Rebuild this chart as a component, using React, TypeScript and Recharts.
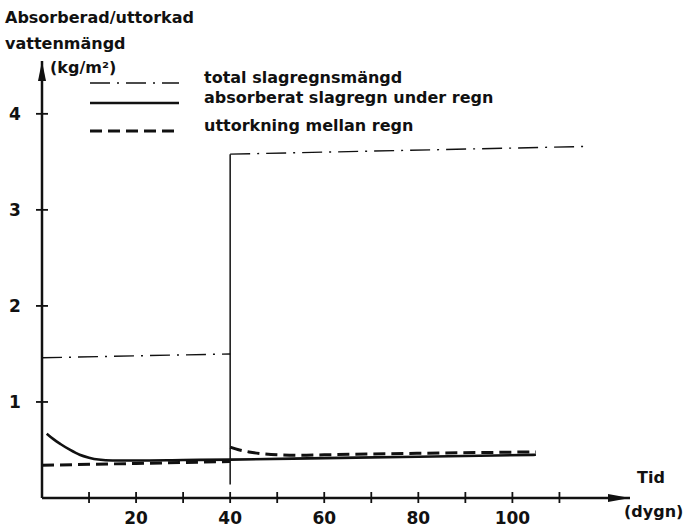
import React from 'react'
import { LineChart, Line, XAxis, YAxis, ReferenceLine, ReferenceDot } from 'recharts'

// dygn (x) and kg/m² (y)
const totalX1 = [0, 40]
const totalY1 = [1.46, 1.5]
const totalX2 = [40, 115.5]
const totalY2 = [3.58, 3.66]

const absorbX = [1, 2.5, 4, 6, 8, 10, 12, 15, 20, 30, 40, 60, 80, 105]
const absorbY = [0.67, 0.61, 0.56, 0.5, 0.45, 0.42, 0.4, 0.39, 0.39, 0.395, 0.4, 0.415, 0.43, 0.45]

const dryX1 = [0, 20, 40]
const dryY1 = [0.34, 0.36, 0.38]
const dryX2 = [40, 42, 44, 47, 50, 55, 60, 80, 105]
const dryY2 = [0.53, 0.5, 0.48, 0.46, 0.45, 0.445, 0.45, 0.465, 0.48]

const stepX = 40
const stepFrom = 0.14
const stepTo = 3.58

const xTicks = [10, 20, 30, 40, 50, 60, 70, 80, 90, 100, 110]
const xLabels = [20, 40, 60, 80, 100]
const yTicks = [1, 2, 3, 4]
const xMax = 125
const yMax = 4.55

const seriesNames = ['total slagregnsmängd', 'absorberat slagregn under regn', 'uttorkning mellan regn']
const titleLines = ['Absorberad/uttorkad', 'vattenmängd']

const pts = (xs: number[], ys: number[]) => xs.map((x, i) => ({ x, y: ys[i] }))

const INK = '#111'
const FONT = '"DejaVu Sans", sans-serif'
const DASH_DOT = '20 7 2 7'
const DASH = '12 6'

const YTick = (props: any) => {
  const { x, y, payload } = props
  return (
    <g>
      <line x1={x - 6} x2={x + 6} y1={y} y2={y} stroke={INK} strokeWidth={1.8} />
      <text x={x - 27} y={y} textAnchor="middle" dominantBaseline="central" fontSize={17} fontWeight="bold" fill={INK} fontFamily={FONT}>
        {payload.value}
      </text>
    </g>
  )
}

const XTick = (props: any) => {
  const { x, y, payload } = props
  return (
    <g>
      <line x1={x} x2={x} y1={y - 6} y2={y + 5} stroke={INK} strokeWidth={1.8} />
      {xLabels.includes(payload.value) && (
        <text x={x} y={y + 20} textAnchor="middle" dominantBaseline="central" fontSize={17} fontWeight="bold" fill={INK} fontFamily={FONT}>
          {payload.value}
        </text>
      )}
    </g>
  )
}

const ArrowUp = (props: any) => {
  const { cx, cy } = props
  return <polygon points={`${cx},${cy} ${cx - 4},${cy + 20} ${cx + 4},${cy + 20}`} fill={INK} />
}

const ArrowRight = (props: any) => {
  const { cx, cy } = props
  return <polygon points={`${cx},${cy} ${cx - 22},${cy - 4} ${cx - 22},${cy + 4}`} fill={INK} />
}

const legendStyles = [
  { top: 0, dash: DASH_DOT, width: 1.4 },
  { top: 20, dash: undefined, width: 2.6 },
  { top: 48, dash: DASH, width: 3 },
]

const LegendBox = () => (
  <div style={{ position: 'absolute', left: 89, top: 68, width: 440, height: 70, fontFamily: FONT }}>
    {seriesNames.map((name, i) => (
      <div key={name} style={{ position: 'absolute', left: 0, top: legendStyles[i].top, height: 20, width: 440 }}>
        <svg width={92} height={10} style={{ position: 'absolute', left: 0, top: 10 }}>
          <line x1={1} x2={90} y1={5} y2={5} stroke={INK} strokeWidth={legendStyles[i].width} strokeDasharray={legendStyles[i].dash} />
        </svg>
        <span style={{ position: 'absolute', left: 115, top: 0, fontSize: 16, fontWeight: 'bold', color: INK, whiteSpace: 'nowrap', lineHeight: '20px' }}>
          {name}
        </span>
      </div>
    ))}
  </div>
)

export default function App() {
  const textStyle: React.CSSProperties = {
    position: 'absolute',
    fontFamily: FONT,
    fontWeight: 'bold',
    fontSize: 16,
    color: INK,
    whiteSpace: 'nowrap',
    lineHeight: '20px',
  }

  return (
    <div style={{ position: 'relative', width: 685, height: 530, background: '#fff' }}>
      <style>{'body{margin:0}'}</style>
      <LineChart width={685} height={530} margin={{ top: 61, right: 55, bottom: 0, left: 0 }}>
        <XAxis
          type="number"
          dataKey="x"
          domain={[0, xMax]}
          ticks={xTicks}
          allowDataOverflow
          height={32}
          tickSize={0}
          tickMargin={0}
          tickLine={false}
          axisLine={{ stroke: INK, strokeWidth: 2.5 }}
          tick={<XTick />}
        />
        <YAxis
          type="number"
          domain={[0, yMax]}
          ticks={yTicks}
          allowDataOverflow
          width={42}
          tickSize={0}
          tickMargin={0}
          tickLine={false}
          axisLine={{ stroke: INK, strokeWidth: 2.5 }}
          tick={<YTick />}
        />
        <ReferenceLine
          segment={[{ x: stepX, y: stepFrom }, { x: stepX, y: stepTo }]}
          stroke={INK}
          strokeWidth={1.5}
          ifOverflow="visible"
        />
        <Line data={pts(totalX1, totalY1)} dataKey="y" type="linear" stroke={INK} strokeWidth={1.4} strokeDasharray={DASH_DOT} dot={false} isAnimationActive={false} />
        <Line data={pts(totalX2, totalY2)} dataKey="y" type="linear" stroke={INK} strokeWidth={1.4} strokeDasharray={DASH_DOT} dot={false} isAnimationActive={false} />
        <Line data={pts(absorbX, absorbY)} dataKey="y" type="monotone" stroke={INK} strokeWidth={2.6} dot={false} isAnimationActive={false} />
        <Line data={pts(dryX1, dryY1)} dataKey="y" type="monotone" stroke={INK} strokeWidth={3} strokeDasharray={DASH} dot={false} isAnimationActive={false} />
        <Line data={pts(dryX2, dryY2)} dataKey="y" type="monotone" stroke={INK} strokeWidth={3} strokeDasharray={DASH} dot={false} isAnimationActive={false} />
        <ReferenceDot x={0} y={yMax} r={0} ifOverflow="visible" shape={<ArrowUp />} />
        <ReferenceDot x={xMax} y={0} r={0} ifOverflow="visible" shape={<ArrowRight />} />
      </LineChart>
      <LegendBox />
      <div style={{ ...textStyle, left: 5, top: 8 }}>{titleLines[0]}</div>
      <div style={{ ...textStyle, left: 5, top: 34 }}>{titleLines[1]}</div>
      <div style={{ ...textStyle, left: 50, top: 58 }}>(kg/m²)</div>
      <div style={{ ...textStyle, left: 637, top: 468 }}>Tid</div>
      <div style={{ ...textStyle, left: 624, top: 502 }}>(dygn)</div>
    </div>
  )
}
